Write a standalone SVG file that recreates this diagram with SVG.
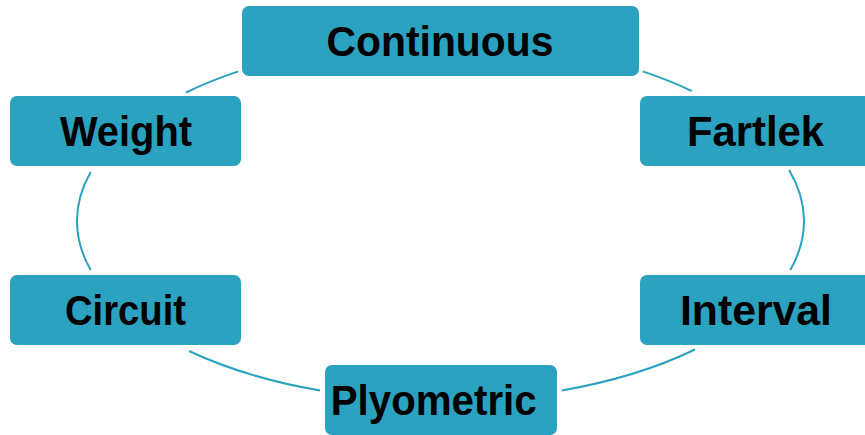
<svg xmlns="http://www.w3.org/2000/svg" width="865" height="435" viewBox="0 0 865 435">
  <style>
    .box { fill: #2aa2c0; }
    .lbl { font-family: "Liberation Sans", Arial, sans-serif; font-weight: bold; font-size: 42px; fill: #000; text-anchor: middle; }
    .arc { fill: none; stroke: #2aa2c0; stroke-width: 2; }
  </style>
  <rect width="865" height="435" fill="#ffffff"/>
  <g id="connectors">
    <path class="arc" d="M186,92.5 A363.5,180 0 0,1 238.3,71.4"/>
    <path class="arc" d="M642.7,71.4 A363.5,180 0 0,1 691.7,91"/>
    <path class="arc" d="M789.1,170 A363.5,180 0 0,1 790.3,270"/>
    <path class="arc" d="M695,349.5 A363.5,180 0 0,1 561.7,390.5"/>
    <path class="arc" d="M320,390.5 A363.5,180 0 0,1 189,351"/>
    <path class="arc" d="M90.7,270 A363.5,180 0 0,1 90.7,172"/>
  </g>
  <g id="continuous">
    <rect class="box" x="242" y="6" width="397" height="70" rx="7"/>
    <text class="lbl" x="440" y="56" textLength="227" lengthAdjust="spacingAndGlyphs">Continuous</text>
  </g>
  <g id="weight">
    <rect class="box" x="10" y="96" width="231" height="70" rx="7"/>
    <text class="lbl" x="126" y="145.5" textLength="132" lengthAdjust="spacingAndGlyphs">Weight</text>
  </g>
  <g id="fartlek">
    <rect class="box" x="640" y="96" width="232" height="70" rx="7"/>
    <text class="lbl" x="755.5" y="145.5" textLength="137" lengthAdjust="spacingAndGlyphs">Fartlek</text>
  </g>
  <g id="circuit">
    <rect class="box" x="10" y="275" width="231" height="70" rx="7"/>
    <text class="lbl" x="125.5" y="325" textLength="121" lengthAdjust="spacingAndGlyphs">Circuit</text>
  </g>
  <g id="interval">
    <rect class="box" x="640" y="275" width="232" height="70" rx="7"/>
    <text class="lbl" x="756" y="325" textLength="152" lengthAdjust="spacingAndGlyphs">Interval</text>
  </g>
  <g id="plyometric">
    <rect class="box" x="325" y="365" width="232" height="70" rx="7"/>
    <text class="lbl" x="433.7" y="414.5" textLength="206" lengthAdjust="spacingAndGlyphs">Plyometric</text>
  </g>
</svg>
